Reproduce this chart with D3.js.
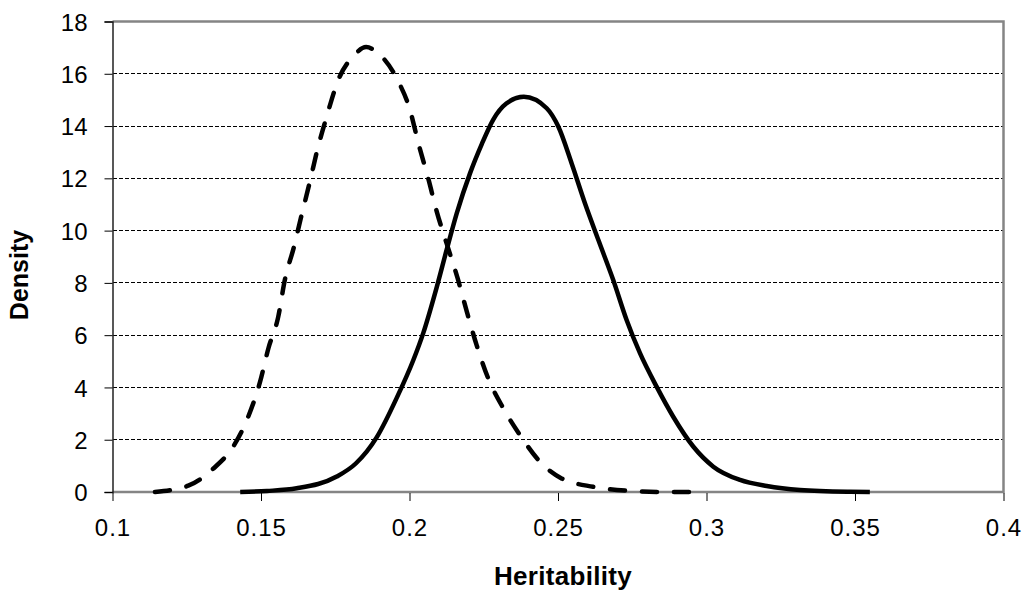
<!DOCTYPE html>
<html>
<head>
<meta charset="utf-8">
<script src="https://cdn.jsdelivr.net/npm/d3@7/dist/d3.min.js"></script>
<style>
  html, body { margin: 0; padding: 0; background: #fff; }
  svg { display: block; }
  text { font-family: "Liberation Sans", Arial, sans-serif; fill: #000; }
</style>
</head>
<body>
<script>
// Posterior densities of heritability: two estimates (dashed and solid)
const xTicks = [0.1, 0.15, 0.2, 0.25, 0.3, 0.35, 0.4];
const yTicks = [0, 2, 4, 6, 8, 10, 12, 14, 16, 18];

const dashedX = [0.1143, 0.1255, 0.134, 0.141, 0.1457, 0.1497, 0.1525, 0.1558, 0.158, 0.1611, 0.1634, 0.1663, 0.1691, 0.1721, 0.176, 0.1813, 0.1854,
                 0.1895, 0.1957, 0.2002, 0.203, 0.2063, 0.2092, 0.2125, 0.2162, 0.2193, 0.2226, 0.2265, 0.2316, 0.2372, 0.2439, 0.2512, 0.2619, 0.273, 0.285, 0.295];
const dashedY = [0.0, 0.24, 0.9, 1.8, 2.88, 4.22, 5.5, 6.7, 8.1, 9.38, 10.47, 11.8, 13.15, 14.36, 15.76, 16.7, 17.02,
                 16.78, 15.82, 14.6, 13.34, 12.0, 10.72, 9.51, 8.18, 6.9, 5.62, 4.35, 3.2, 2.18, 1.16, 0.52, 0.2, 0.05, 0.0, 0.0];

const solidX = [0.143, 0.152, 0.162, 0.1755, 0.182, 0.189, 0.1957, 0.2013, 0.2046, 0.2092, 0.2125, 0.2159, 0.2204, 0.2243, 0.2282, 0.2327, 0.2385,
                0.2462, 0.2501, 0.2546, 0.2591, 0.2636, 0.2686, 0.2731, 0.2776, 0.2832, 0.2888, 0.2956, 0.3023, 0.3113, 0.3203, 0.3315, 0.3483, 0.355];
const solidY = [0.0, 0.04, 0.14, 0.59, 1.1, 2.1, 3.6, 5.05, 6.07, 7.85, 9.26, 10.66, 12.2, 13.3, 14.25, 14.87, 15.12,
                14.68, 13.98, 12.57, 11.04, 9.64, 8.11, 6.58, 5.31, 4.03, 2.88, 1.73, 0.97, 0.46, 0.23, 0.08, 0.01, 0.0];

const W = 1026, H = 592;
const m = { left: 112.5, right: 22.5, top: 21.5, bottom: 100 };

const svg = d3.select("body").append("svg").attr("width", W).attr("height", H);

const x = d3.scaleLinear().domain([0.1, 0.4]).range([m.left, W - m.right]);
const y = d3.scaleLinear().domain([0, 18]).range([H - m.bottom, m.top]);

// horizontal gridlines
svg.append("g").selectAll("line")
  .data(yTicks.filter(d => d > 0 && d < 18))
  .join("line")
  .attr("x1", x(0.1)).attr("x2", x(0.4))
  .attr("y1", d => y(d)).attr("y2", d => y(d))
  .attr("stroke", "#000").attr("stroke-width", 1)
  .attr("stroke-dasharray", "4,2")
  .attr("shape-rendering", "crispEdges");

// plot frame (top, right, bottom in grey)
svg.append("path")
  .attr("d", `M${x(0.1)},${y(18)}H${x(0.4)}V${y(0)}H${x(0.1)}`)
  .attr("fill", "none").attr("stroke", "#858585").attr("stroke-width", 2.5);

// y axis
const yAxis = svg.append("g")
  .attr("transform", `translate(${x(0.1)},0)`)
  .call(d3.axisLeft(y).tickValues(yTicks).tickSize(8).tickPadding(17).tickFormat(d3.format("d")));
yAxis.select(".domain").attr("stroke", "#222").attr("stroke-width", 1.5);
yAxis.selectAll(".tick line").attr("stroke", "#000");
yAxis.selectAll("text").style("font-size", "24px").attr("dy", "0.36em");

// x axis
const xAxis = svg.append("g")
  .attr("transform", `translate(0,${y(0) + 1})`)
  .call(d3.axisBottom(x).tickValues(xTicks).tickSize(8).tickPadding(18).tickFormat(d => String(d)));
xAxis.select(".domain").remove();
xAxis.selectAll(".tick line").attr("stroke", "#000");
xAxis.selectAll("text").style("font-size", "24px").style("letter-spacing", "1px");

// axis titles
svg.append("text")
  .attr("x", 563).attr("y", 585)
  .attr("text-anchor", "middle")
  .style("font-size", "26px").style("font-weight", "bold").style("letter-spacing", "0.3px")
  .text("Heritability");

svg.append("text")
  .attr("transform", "translate(28,275) rotate(-90)")
  .attr("text-anchor", "middle")
  .style("font-size", "25px").style("font-weight", "bold")
  .text("Density");

const line = d3.line().x(d => x(d[0])).y(d => y(d[1])).curve(d3.curveMonotoneX);

svg.append("path")
  .datum(dashedX.map((v, i) => [v, dashedY[i]]))
  .attr("d", line)
  .attr("fill", "none").attr("stroke", "#000").attr("stroke-width", 4.5)
  .attr("stroke-linecap", "round")
  .attr("stroke-dasharray", "15,17");

svg.append("path")
  .datum(solidX.map((v, i) => [v, solidY[i]]))
  .attr("d", line)
  .attr("fill", "none").attr("stroke", "#000").attr("stroke-width", 4.5)
  .attr("stroke-linejoin", "round");
</script>
</body>
</html>
